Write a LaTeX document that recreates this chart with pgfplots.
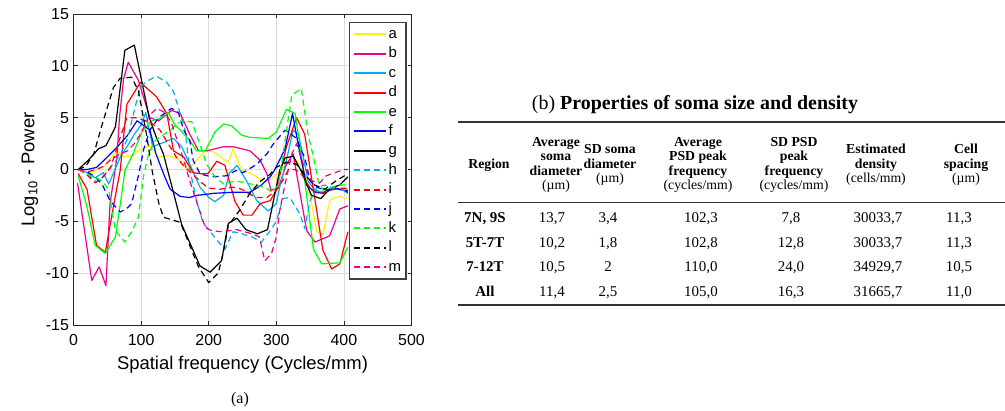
\documentclass[border=0pt]{standalone}
\usepackage{fontspec}
\setmainfont{Liberation Serif}
\newfontfamily\arial{Liberation Sans}
\usepackage{pgfplots}
\pgfplotsset{compat=1.18}
\begin{document}
\begin{tikzpicture}
\useasboundingbox (0bp,0bp) rectangle (1005bp,-411bp);
\begin{axis}[
    at={(73.5bp,-325bp)}, anchor=south west,
    scale only axis, width=338bp, height=311bp,
    xmin=0, xmax=500, ymin=-15, ymax=15,
    xtick={0,100,...,500}, ytick={-15,-10,...,15},
    grid=major, grid style={black!14, line width=0.8bp},
    axis line style={black!85, line width=0.9bp},
    tick align=inside, major tick length=4bp,
    tick style={black!85, line width=0.8bp},
    /pgf/number format/assume math mode=true,
    tick label style={font=\arial\fontsize{16}{16}\selectfont},
    xticklabel style={yshift=-6bp},
    yticklabel style={xshift=-1bp},
    xlabel={Spatial frequency (Cycles/mm)},
    ylabel={Log\textsubscript{10} - Power},
    every axis x label/.style={at={(axis description cs:0.5,-0.129)}, anchor=center,
        font=\arial\fontsize{18.5}{18.5}\selectfont},
    every axis y label/.style={at={(axis description cs:-0.129,0.5)}, rotate=90, anchor=center,
        font=\arial\fontsize{18.5}{18.5}\selectfont},
    legend style={at={(axis description cs:0.815,0.974)}, anchor=north west,
        draw=black!75, line width=1.3bp, fill=white,
        font=\arial\fontsize{15}{15}\selectfont,
        nodes={text height=11bp, text depth=3bp, inner ysep=2.7bp},
        cells={anchor=west}},
    legend image code/.code={\draw[#1, line width=2bp] (0bp,0bp) -- (32bp,0bp);},
    every axis plot/.append style={line width=1.2bp, line join=round},
    sl/.style={solid}, dl/.style={dash pattern=on 6bp off 4bp},
]
% a
\addplot[yellow, sl] coordinates {
(7,0) (25,-0.3) (44,0.2) (54,1) (64,1.8) (74,1.2) (86,1.35) (101,2) (113,2.3)
(126,1.2) (140,1.35) (155,1) (170,0) (182,0.9) (195,1.8) (207,1.7) (218,1.2)
(229,0.7) (236,2) (249,-0.1) (260,-0.3) (271,-0.7) (281,-1.2) (293,-0.9)
(303,-0.2) (320,0.7) (330,0.9) (342,-0.3) (350,-2.5) (360,-6) (369,-6.3)
(379,-3) (392,-2.6) (406,-2.8)};
% b
\addplot[magenta, sl] coordinates {
(6,-1.3) (27,-10.7) (38,-9.4) (48,-11.2) (54,-3.3) (64,1) (68,5) (74,8.7)
(81,10.35) (96,8.6) (113,5) (126,4.7) (145,5.7) (158,5.4) (172,3.4) (185,1.8)
(197,1.8) (222,2.2) (236,2.2) (261,1.8) (276,0.9) (286,-0.4) (292,-2)
(303,-1.8) (315,0.5) (325,1.5) (337,-3) (345,-5.9) (357,-7) (379,-6.4)
(394,-3.8) (406,-3.5)};
% c
\addplot[cyan, sl] coordinates {
(7,0) (20,-0.3) (32,-0.8) (44,-0.3) (52,-1.4) (60,-0.2) (70,1.3) (80,2.3)
(90,3.4) (100,4.3) (107,5.5) (117,2.2) (133,2.6) (148,3.0) (160,2.2) (172,0.5)
(187,-1.7) (200,-2.7) (209,-3.1) (222,-2.5) (231,-0.3) (242,0.4) (256,-1.1)
(271,-3) (288,-4) (300,-3.3) (305,-1.7) (315,0.9) (325,3.8) (333,3.3)
(340,1.2) (347,-1.1) (357,-2) (369,-2.2) (384,-1.7) (399,-2) (406,-2.3)};
% d
\addplot[red, sl] coordinates {
(7,-0.4) (20,-1.9) (34,-7.3) (47,-8) (59,-3.6) (69,-0.1) (79,6.3) (99,8.4)
(123,7) (138,5.4) (148,1.8) (163,1.2) (177,-0.3) (187,-0.4) (199,-0.4)
(212,0.8) (224,0.4) (239,-3.1) (251,-4.4) (264,-4.4) (276,-3.3) (291,-3)
(300,-2) (315,2.2) (330,5) (342,3.4) (355,-2) (369,-7.8) (382,-9.6)
(394,-9.1) (406,-6)};
% e
\addplot[green, sl] coordinates {
(7,-0.6) (20,-3.6) (32,-7.3) (47,-8.1) (62,-6.5) (70,-3) (76,-0.1) (88,1.5)
(101,3.6) (116,4.7) (128,4.9) (140,5.5) (150,4.3) (158,3.8) (172,2.8)
(182,1.8) (195,1.8) (209,3.6) (222,4.4) (234,4.2) (249,3.3) (261,3.1)
(288,3.0) (300,3.6) (315,5.8) (328,5.4) (340,0) (355,-7.7) (367,-9.1)
(394,-9) (406,-7.5)};
% f
\addplot[blue, sl] coordinates {
(7,0) (20,0) (34,0.2) (50,1.2) (65,2.2) (80,3.3) (94,4.7) (113,3.8) (122,1.5)
(135,-0.7) (143,-1.9) (158,-2.6) (172,-2.7) (182,-2.5) (207,-2.3) (234,-2.2)
(261,-2.2) (278,-1.5) (291,-0.7) (298,0) (313,2) (324,5.4) (335,1.5)
(345,-1.5) (357,-2.2) (370,-2.3) (385,-1.8) (400,-2) (406,-2.2)};
% g
\addplot[black, sl] coordinates {
(7,0) (22,0.9) (37,2) (48,2.3) (62,4.1) (76,11.5) (90,12) (102,8.2) (112,5)
(122,3.2) (133,1.5) (145,-1.5) (160,-5.3) (175,-7.5) (187,-9.3) (202,-9.9)
(219,-8.8) (229,-5.2) (242,-4.7) (255,-5.8) (272,-6.2) (287,-5.8) (305,-0.1)
(313,1.1) (325,1.3) (338,-0.3) (352,-2.5) (366,-2.8) (380,-1.8) (394,-1.5)
(406,-0.7)};
% h
\addplot[cyan, dl] coordinates {
(7,0) (20,-0.4) (34,-1.2) (46,-0.5) (58,0.5) (70,1.5) (80,3) (90,5.7) (99,8)
(111,8.6) (123,9) (138,8.4) (148,7.5) (155,6) (165,3.8) (172,0) (182,-3)
(192,-5.2) (200,-5.8) (212,-6.8) (224,-7.7) (236,-6) (249,-6.2) (264,-6.5)
(278,-7) (290,-6) (300,-5) (310,-2.8) (320,-2.7) (335,-4.3) (342,-5.7)
(350,-3) (360,-1.7) (372,-1.5) (386,-1.8) (400,-2) (406,-2.2)};
% i
\addplot[red, dl] coordinates {
(7,0) (20,-0.5) (32,-1.3) (44,-0.7) (55,0.2) (66,2.5) (79,5) (91,5) (103,4.8)
(115,4.5) (128,3.8) (140,2.5) (152,1.2) (165,0.2) (177,-0.5) (190,-1.3)
(200,-1.8) (217,-1.9) (236,-1.7) (249,-1.9) (261,-2.4) (271,-2.7) (286,-2.7)
(300,-2) (312,-0.8) (318,0) (328,0) (338,-0.5) (352,-2) (365,-2.3) (380,-2)
(395,-1.8) (406,-1.8)};
% j
\addplot[blue, dl] coordinates {
(7,0) (22,-0.3) (32,-0.7) (42,-1.4) (54,-3) (69,-4.1) (78,-3.8) (86,-3.3)
(96,-0.6) (104,2) (113,3.8) (126,5) (145,5.9) (155,5.5) (163,3.8) (172,2.8)
(177,0.9) (187,-0.4) (197,-0.6) (209,-0.7) (227,-0.6) (240,-0.1) (251,-0.3)
(271,0.5) (286,1.5) (296,2.5) (313,3.8) (330,3.0) (337,1.8) (342,1.2)
(350,-1.1) (360,-1.7) (372,-2) (386,-1.8) (400,-2) (406,-2)};
% k
\addplot[green, dl] coordinates {
(7,0) (22,-0.5) (34,-0.8) (44,-1.2) (52,-2) (62,-5.9) (76,-7) (86,-6)
(96,-4.6) (101,-2) (104,-0.5) (111,1.5) (121,2.8) (132,3.3) (143,3.8)
(160,4.7) (175,4.6) (185,2.8) (197,0.5) (209,-0.7) (222,-1.4) (240,-1.1)
(255,-1.3) (270,-1.5) (286,-1.8) (293,-2.2) (303,-1.5) (313,2.8) (323,7.2)
(337,7.8) (347,3.4) (355,1.2) (362,-1.1) (369,-2) (380,-1.8) (395,-1.5)
(406,-1.5)};
% l
\addplot[black, dl] coordinates {
(7,0) (18,0.3) (30,1.5) (44,4.7) (59,7.9) (69,8.8) (86,8.9) (96,7.6) (108,3.4)
(116,0) (126,-3.2) (133,-4.6) (143,-4.8) (158,-5.1) (170,-7) (185,-9.4)
(200,-10.9) (214,-10) (221,-8.2) (229,-5.4) (245,-4) (260,-2.4) (275,-1.2)
(290,-0.5) (300,0.2) (315,0.7) (330,0.5) (342,-0.5) (357,-1.5) (372,-1.9)
(386,-1.2) (406,-0.4)};
% m
\addplot[magenta, dl] coordinates {
(7,0) (22,-0.2) (34,0) (44,0.3) (54,0.9) (69,1.5) (80,1.8) (90,2.5) (100,3.5)
(112,5.2) (123,5.9) (135,5.5) (145,4.5) (155,2.5) (165,0.5) (172,-1.1)
(180,-2.7) (195,-5.6) (204,-5.9) (219,-6) (241,-5.8) (264,-6.2) (275,-6.5)
(283,-8.8) (293,-8.1) (300,-6.5) (305,-4) (313,-1.4) (323,1.5) (330,2.5)
(340,0.5) (352,-1.1) (364,-1.3) (374,-0.6) (387,-0.3) (400,0) (406,0)};
\legend{a,b,c,d,e,f,g,h,i,j,k,l,m}
\end{axis}
\begin{scope}[x=1bp,y=-1bp]
\node[font=\fontsize{16}{16}\selectfont] at (240,400) {(a)};
\node[font=\fontsize{20}{20}\selectfont] at (695,105) {(b) \textbf{Properties of soma size and density}};
\draw[line width=1.2bp, black!80] (458,122) -- (1005,122);
\draw[line width=0.8bp, black!80] (458,202) -- (1005,202);
\draw[line width=1.2bp, black!80] (458,305) -- (1005,305);
\begin{scope}[every node/.style={font=\fontsize{13.8}{14.6}\selectfont, align=center, inner sep=0pt}]
\node at (489,165) {\textbf{Region}};
\node at (556,165) {\textbf{Average}\\\textbf{soma}\\\textbf{diameter}\\(µm)};
\node at (610,165) {\textbf{SD soma}\\\textbf{diameter}\\(µm)};
\node at (698,165) {\textbf{Average}\\\textbf{PSD peak}\\\textbf{frequency}\\(cycles/mm)};
\node at (794,165) {\textbf{SD PSD}\\\textbf{peak}\\\textbf{frequency}\\(cycles/mm)};
\node at (876,165) {\textbf{Estimated}\\\textbf{density}\\(cells/mm)};
\node at (966,165) {\textbf{Cell}\\\textbf{spacing}\\(µm)};
\end{scope}
\begin{scope}[every node/.style={font=\fontsize{15}{15}\selectfont, inner sep=0pt, anchor=base}]
\foreach \y/\r/\da/\db/\dc/\dd/\de/\df in {
  222/{7N, 9S}/{13,7}/{3,4}/{102,3}/{7,8}/{30033,7}/{11,3},
  247/{5T-7T}/{10,2}/{1,8}/{102,8}/{12,8}/{30033,7}/{11,3},
  271/{7-12T}/{10,5}/{2}/{110,0}/{24,0}/{34929,7}/{10,5},
  296/{All}/{11,4}/{2,5}/{105,0}/{16,3}/{31665,7}/{11,0}} {
  \node at (485,\y) {\textbf{\r}};
  \node at (552,\y) {\da};
  \node at (608,\y) {\db};
  \node at (701,\y) {\dc};
  \node at (791,\y) {\dd};
  \node at (878,\y) {\de};
  \node at (959,\y) {\df};
}
\end{scope}
\end{scope}
\end{tikzpicture}
\end{document}
